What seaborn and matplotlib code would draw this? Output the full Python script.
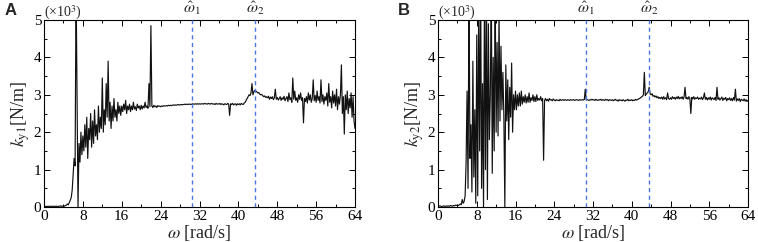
import numpy as np
import pandas as pd
import matplotlib
matplotlib.use("Agg")
import matplotlib.pyplot as plt
from matplotlib.ticker import MultipleLocator
import seaborn as sns

# omega grid (rad/s), 0.2 rad/s step
omega = np.round(np.arange(0, 64.0001, 0.2), 2)

# k_y1 (x10^3 N/m)
ky1 = [
    0.02, 0.01, 0.02, 0.01, 0.02, 0.01, 0.02, 0.02, 0.01, 0.02,
    0.02, 0.01, 0.02, 0.02, 0.01, 0.02, 0.02, 0.03, 0.02, 0.02,
    0.03, 0.02, 0.04, 0.05, 0.08, 0.06, 0.12, 0.18, 0.25, 0.45,
    0.9, 1.3, 1.1, 6.0, 2.9, 0.0, 1.7, 1.2, 2.0, 1.4,
    1.9, 1.5, 2.2, 1.6, 2.4, 1.3, 2.1, 1.8, 2.5, 1.6,
    2.3, 1.7, 2.6, 1.9, 2.2, 1.8, 2.7, 2.0, 2.4, 2.1,
    3.45, 2.0, 2.6, 2.2, 3.3, 2.4, 3.9, 2.3, 2.8, 2.1,
    2.7, 2.3, 2.9, 2.4, 2.6, 2.3, 2.8, 2.5, 2.7, 2.45,
    2.7, 2.55, 2.75, 2.6, 2.85, 2.5, 2.7, 2.6, 2.75, 2.55,
    2.7, 2.6, 2.8, 2.62, 2.68, 2.58, 2.75, 2.65, 2.7, 2.6,
    2.72, 2.62, 2.7, 2.65, 2.8, 2.66, 2.7, 2.64, 3.3, 2.68,
    4.85, 2.7, 2.66, 2.72, 2.68, 2.7, 2.66, 2.71, 2.69, 2.7,
    2.68, 2.7, 2.69, 2.71, 2.7, 2.7, 2.71, 2.7, 2.72, 2.71,
    2.72, 2.71, 2.72, 2.73, 2.72, 2.73, 2.72, 2.73, 2.74, 2.73,
    2.73, 2.74, 2.73, 2.74, 2.74, 2.75, 2.74, 2.75, 2.74, 2.75,
    2.75, 2.74, 2.75, 2.76, 2.75, 2.75, 2.76, 2.75, 2.76, 2.75,
    2.76, 2.75, 2.76, 2.76, 2.75, 2.77, 2.76, 2.76, 2.75, 2.77,
    2.76, 2.75, 2.77, 2.76, 2.75, 2.76, 2.74, 2.77, 2.75, 2.76,
    2.75, 2.77, 2.74, 2.76, 2.75, 2.73, 2.76, 2.75, 2.74, 2.77,
    2.75, 2.45, 2.76, 2.74, 2.77, 2.73, 2.75, 2.76, 2.72, 2.76,
    2.74, 2.76, 2.73, 2.77, 2.75, 2.74, 2.78, 2.8, 2.85, 2.9,
    2.95, 3.0, 2.98, 3.05, 3.3, 3.0, 3.08, 3.12, 3.1, 3.08,
    3.05, 3.06, 3.02, 3.0, 3.01, 2.98, 2.95, 2.97, 2.93, 2.95,
    2.92, 2.96, 2.88, 2.94, 2.9, 2.95, 2.87, 2.92, 3.15, 2.88,
    2.93, 2.86, 2.9, 2.95, 2.85, 2.92, 2.88, 2.96, 2.84, 2.9,
    2.95, 2.82, 3.05, 2.87, 2.92, 2.8, 3.45, 2.88, 3.1, 2.85,
    2.92, 2.8, 3.0, 2.88, 3.05, 2.85, 2.92, 2.25, 2.9, 2.82,
    2.95, 2.78, 3.05, 2.86, 3.0, 2.8, 2.9, 3.4, 2.84, 2.98,
    2.8, 3.1, 2.85, 2.95, 2.78, 3.4, 2.82, 3.0, 2.75, 2.95,
    2.85, 3.05, 2.7, 3.3, 2.8, 2.95, 2.65, 3.1, 2.78, 3.0,
    2.7, 3.15, 2.6, 2.95, 2.75, 3.0, 3.8, 2.5, 2.95, 1.95,
    3.0, 2.6, 3.1, 2.5, 2.9, 2.65, 3.05, 2.4, 2.95, 2.3,
    2.1,
]

# k_y2 (x10^3 N/m)
ky2 = [
    0.03, 0.02, 0.03, 0.02, 0.01, 0.02, 0.03, 0.02, 0.02, 0.03,
    0.02, 0.03, 0.02, 0.04, 0.03, 0.02, 0.04, 0.03, 0.05, 0.04,
    0.05, 0.04, 0.06, 0.08, 0.06, 0.2, 0.1, 0.15, 0.3, 1.2,
    3.1, 0.5, 6.0, 1.3, 2.2, 0.4, 3.9, 0.8, 2.6, 0.1,
    4.6, 0.3, 5.5, 1.5, 6.0, 0.5, 3.3, 0.0, 6.0, 1.0,
    5.8, 0.2, 4.9, 1.8, 3.0, 6.0, 0.9, 4.0, 1.5, 6.0,
    2.0, 4.4, 1.9, 5.2, 2.3, 4.3, 2.6, 3.6, 2.4, 0.0,
    3.8, 2.3, 3.4, 1.8, 3.2, 2.4, 3.85, 2.0, 3.0, 2.6,
    3.1, 2.6, 3.0, 2.7, 3.05, 2.7, 3.1, 2.75, 2.95, 2.8,
    3.0, 2.78, 2.95, 2.8, 3.05, 2.8, 2.92, 2.85, 3.0, 2.82,
    2.95, 2.82, 3.0, 2.85, 2.9, 2.86, 2.95, 2.84, 2.9, 1.25,
    2.85, 2.9, 2.84, 2.88, 2.83, 2.9, 2.86, 2.87, 2.84, 2.89,
    2.86, 2.84, 2.87, 2.85, 2.86, 2.84, 2.88, 2.85, 2.86, 2.87,
    2.85, 2.87, 2.86, 2.85, 2.87, 2.86, 2.85, 2.87, 2.86, 2.86,
    2.87, 2.85, 2.86, 2.87, 2.86, 2.85, 2.87, 2.86, 2.86, 2.87,
    2.86, 2.87, 3.15, 2.86, 2.87, 2.86, 2.85, 2.87, 2.86, 2.88,
    2.86, 2.87, 2.85, 2.88, 2.86, 2.85, 2.87, 2.86, 2.88, 2.85,
    2.87, 2.86, 2.85, 2.88, 2.86, 2.87, 2.84, 2.87, 2.86, 2.85,
    2.87, 2.84, 2.86, 2.88, 2.85, 2.86, 2.83, 2.87, 2.85, 2.86,
    2.84, 2.87, 2.85, 2.83, 2.86, 2.85, 2.88, 2.84, 2.86, 2.85,
    2.87, 2.84, 2.86, 2.85, 2.88, 2.86, 2.87, 2.89, 2.9, 2.92,
    2.94, 2.96, 3.0, 3.6, 2.98, 3.02, 3.05, 3.08, 3.2, 3.02,
    3.0, 3.03, 2.96, 2.98, 2.94, 2.97, 2.92, 2.95, 2.9, 2.93,
    2.9, 2.94, 2.88, 2.95, 2.89, 2.92, 2.87, 3.05, 2.9, 2.88,
    2.92, 2.88, 2.95, 2.9, 2.93, 2.88, 2.94, 2.9, 2.96, 2.89,
    2.93, 2.9, 2.95, 2.88, 2.94, 3.2, 2.9, 2.93, 2.88, 2.95,
    2.9, 2.5, 2.93, 2.89, 2.95, 2.88, 2.92, 2.9, 2.94, 2.88,
    2.91, 2.89, 2.94, 2.87, 2.92, 3.05, 2.88, 2.93, 2.86, 2.92,
    2.88, 2.94, 2.86, 2.92, 2.9, 2.87, 2.93, 2.85, 3.2, 2.88,
    2.92, 2.86, 2.9, 2.94, 2.85, 2.91, 2.88, 2.93, 2.84, 2.9,
    2.87, 2.92, 2.85, 2.9, 2.84, 2.93, 2.86, 3.15, 2.83, 2.89,
    2.85, 2.9, 2.82, 2.88, 2.86, 2.84, 2.89, 2.83, 2.87, 2.82,
    2.85,
]

# characteristic frequencies per panel
omega_hat_a = [30.4, 43.5]
omega_hat_b = [30.5, 43.6]

panel_letters = ["A", "B"]
ylabels = [r"$k_{\mathrm{y}1}$[N/m]", r"$k_{\mathrm{y}2}$[N/m]"]
xticks = [0, 8, 16, 24, 32, 40, 48, 56, 64]
yticks = [0, 1, 2, 3, 4, 5]

sns.set_style("ticks")
plt.rcParams["font.family"] = ["Liberation Serif", "DejaVu Serif"]
plt.rcParams["mathtext.fontset"] = "stix"

fig = plt.figure(figsize=(7.58, 2.42), dpi=100)
ax_a = fig.add_axes([44 / 758, 1 - 207 / 242, 311 / 758, 187 / 242])
ax_b = fig.add_axes([438 / 758, 1 - 207 / 242, 310 / 758, 187 / 242])

series = [ky1, ky2]
hats = [omega_hat_a, omega_hat_b]

for ax, y, hat, letter, ylab in zip([ax_a, ax_b], series, hats, panel_letters, ylabels):
    df = pd.DataFrame({"omega": omega, "k": y})
    sns.lineplot(data=df, x="omega", y="k", ax=ax, color="#111111",
                 linewidth=0.85, estimator=None, sort=False)
    for h in hat:
        ax.axvline(h, color="#4a78e0", linestyle=(0, (3, 2.5)), linewidth=1.0, zorder=3)
    ax.set_xlim(0, 64)
    ax.set_ylim(0, 5)
    ax.set_xticks(xticks)
    ax.set_yticks(yticks)
    ax.xaxis.set_minor_locator(MultipleLocator(4))
    ax.yaxis.set_minor_locator(MultipleLocator(0.5))
    ax.tick_params(which="both", direction="in", top=True, right=True,
                   labelsize=11, pad=2, width=0.7, colors="black")
    ax.tick_params(which="major", length=4)
    ax.tick_params(which="minor", length=2)
    for sp in ax.spines.values():
        sp.set_linewidth(0.8)
        sp.set_color("black")
        sp.set_visible(True)
    ax.set_xlabel(r"$\omega$ [rad/s]", fontsize=13, labelpad=0)
    ax.set_ylabel(ylab, fontsize=13, labelpad=1)
    ax.text(0.0, 0.99, r"(×10$^{3}$)", transform=ax.transAxes, fontsize=10,
            ha="left", va="bottom")
    for i, h in enumerate(hat):
        ax.text(h, 5.08, r"$\hat{\omega}_{%d}$" % (i + 1), fontsize=11.5,
                ha="center", va="bottom")
    ax.text(-0.128, 1.01, letter, transform=ax.transAxes, fontsize=12,
            fontweight="bold", family=["Liberation Sans", "DejaVu Sans"],
            ha="left", va="bottom")

fig.savefig("out.png", dpi=100)
